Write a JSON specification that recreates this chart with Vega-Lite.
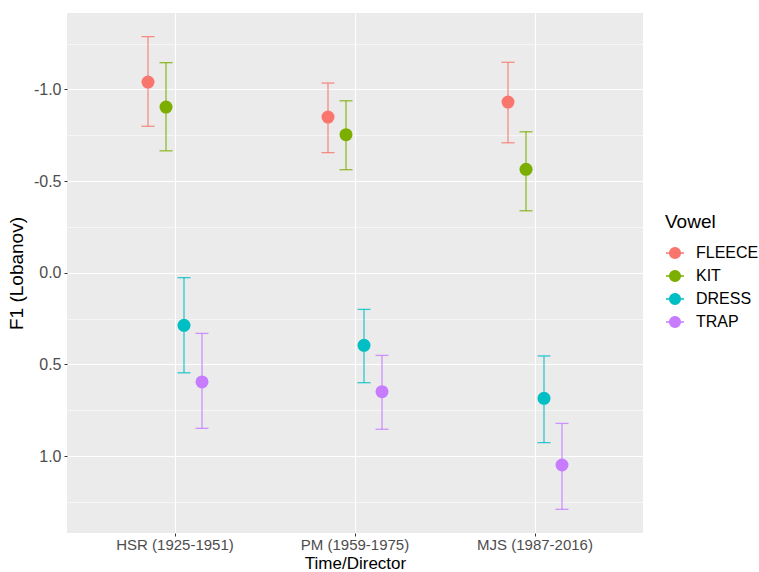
{
  "$schema": "https://vega.github.io/schema/vega-lite/v6.json",
  "autosize": "none",
  "padding": {"left": 67, "top": 13, "right": 116, "bottom": 39},
  "width": 576,
  "height": 520,
  "background": "white",
  "config": {
    "font": "Liberation Sans",
    "view": {"fill": "#EBEBEB", "stroke": null}
  },
  "data": {
    "values": [
      {"time": "HSR (1925-1951)", "vowel": "FLEECE", "mean": -1.040, "lo": -1.288, "hi": -0.799},
      {"time": "HSR (1925-1951)", "vowel": "KIT", "mean": -0.904, "lo": -1.146, "hi": -0.665},
      {"time": "HSR (1925-1951)", "vowel": "DRESS", "mean": 0.287, "lo": 0.027, "hi": 0.546},
      {"time": "HSR (1925-1951)", "vowel": "TRAP", "mean": 0.596, "lo": 0.331, "hi": 0.849},
      {"time": "PM (1959-1975)", "vowel": "FLEECE", "mean": -0.849, "lo": -1.035, "hi": -0.655},
      {"time": "PM (1959-1975)", "vowel": "KIT", "mean": -0.753, "lo": -0.938, "hi": -0.562},
      {"time": "PM (1959-1975)", "vowel": "DRESS", "mean": 0.396, "lo": 0.200, "hi": 0.600},
      {"time": "PM (1959-1975)", "vowel": "TRAP", "mean": 0.649, "lo": 0.451, "hi": 0.854},
      {"time": "MJS (1987-2016)", "vowel": "FLEECE", "mean": -0.931, "lo": -1.148, "hi": -0.709},
      {"time": "MJS (1987-2016)", "vowel": "KIT", "mean": -0.564, "lo": -0.769, "hi": -0.338},
      {"time": "MJS (1987-2016)", "vowel": "DRESS", "mean": 0.685, "lo": 0.454, "hi": 0.927},
      {"time": "MJS (1987-2016)", "vowel": "TRAP", "mean": 1.049, "lo": 0.822, "hi": 1.291}
    ]
  },
  "encoding": {
    "x": {
      "field": "time",
      "type": "nominal",
      "sort": ["HSR (1925-1951)", "PM (1959-1975)", "MJS (1987-2016)"],
      "scale": {"paddingInner": 0.6, "paddingOuter": 0.4},
      "axis": {
        "title": "Time/Director",
        "titleFontSize": 17,
        "titleFontWeight": "normal",
        "titleColor": "#000000",
        "titleBaseline": "alphabetic",
        "titleY": 35,
        "labelFontSize": 15,
        "labelColor": "#4D4D4D",
        "labelAngle": 0,
        "labelPadding": 1,
        "tickColor": "#333333",
        "tickSize": 3,
        "domain": false,
        "grid": true,
        "gridColor": "#FFFFFF",
        "gridWidth": 1.1,
        "bandPosition": 0.5
      }
    },
    "xOffset": {
      "field": "vowel",
      "type": "nominal",
      "sort": ["FLEECE", "KIT", "DRESS", "TRAP"],
      "scale": {"paddingInner": 0, "paddingOuter": 0}
    },
    "color": {
      "field": "vowel",
      "type": "nominal",
      "sort": ["FLEECE", "KIT", "DRESS", "TRAP"],
      "scale": {
        "domain": ["FLEECE", "KIT", "DRESS", "TRAP"],
        "range": ["#F8766D", "#7CAE00", "#00BFC4", "#C77CFF"]
      },
      "legend": {
        "title": "Vowel",
        "orient": "none",
        "legendX": 598,
        "legendY": 200,
        "padding": 0,
        "titleFontSize": 19,
        "titleFontWeight": "normal",
        "titleColor": "#000000",
        "titlePadding": 11,
        "labelFontSize": 16,
        "labelColor": "#000000",
        "labelOffset": 11,
        "rowPadding": 5,
        "symbolType": "M-1,0L1,0M0.6,0A0.6,0.6,0,1,1,-0.6,0A0.6,0.6,0,1,1,0.6,0Z",
        "symbolSize": 324,
        "symbolStrokeWidth": 1.3,
        "symbolOpacity": 1,
        "encode": {
          "symbols": {
            "update": {
              "stroke": {"scale": "color", "field": "value"},
              "fill": {"scale": "color", "field": "value"},
              "strokeWidth": {"value": 1.3},
              "opacity": {"value": 1}
            }
          }
        }
      }
    }
  },
  "layer": [
    {
      "mark": {"type": "rule", "strokeWidth": 1.3, "opacity": 0.8},
      "encoding": {
        "y": {
          "field": "lo",
          "type": "quantitative",
          "scale": {"domain": [-1.417, 1.42], "reverse": true, "nice": false, "zero": false},
          "axis": {
            "title": "F1 (Lobanov)",
            "titleFontSize": 19,
            "titleFontWeight": "normal",
            "titleColor": "#000000",
            "titlePadding": 7,
            "values": [-1.25, -1, -0.75, -0.5, -0.25, 0, 0.25, 0.5, 0.75, 1, 1.25],
            "labelExpr": "datum.value % 0.5 === 0 ? replace(format(datum.value, '.1f'), '\u2212', '-') : ''",
            "labelFontSize": 16,
            "labelColor": "#4D4D4D",
            "labelPadding": 3,
            "tickColor": "#333333",
            "tickSize": 3,
            "tickOpacity": {"condition": {"test": "datum.value % 0.5 === 0", "value": 1}, "value": 0},
            "domain": false,
            "grid": true,
            "gridColor": "#FFFFFF",
            "gridWidth": {"condition": {"test": "datum.value % 0.5 === 0", "value": 1.1}, "value": 0.55}
          }
        },
        "y2": {"field": "hi"}
      }
    },
    {
      "mark": {"type": "tick", "size": 13, "thickness": 1.3, "opacity": 0.8},
      "encoding": {
        "y": {"field": "lo", "type": "quantitative"}
      }
    },
    {
      "mark": {"type": "tick", "size": 13, "thickness": 1.3, "opacity": 0.8},
      "encoding": {
        "y": {"field": "hi", "type": "quantitative"}
      }
    },
    {
      "mark": {"type": "point", "filled": true, "size": 169, "opacity": 1},
      "encoding": {
        "y": {"field": "mean", "type": "quantitative"}
      }
    }
  ]
}
